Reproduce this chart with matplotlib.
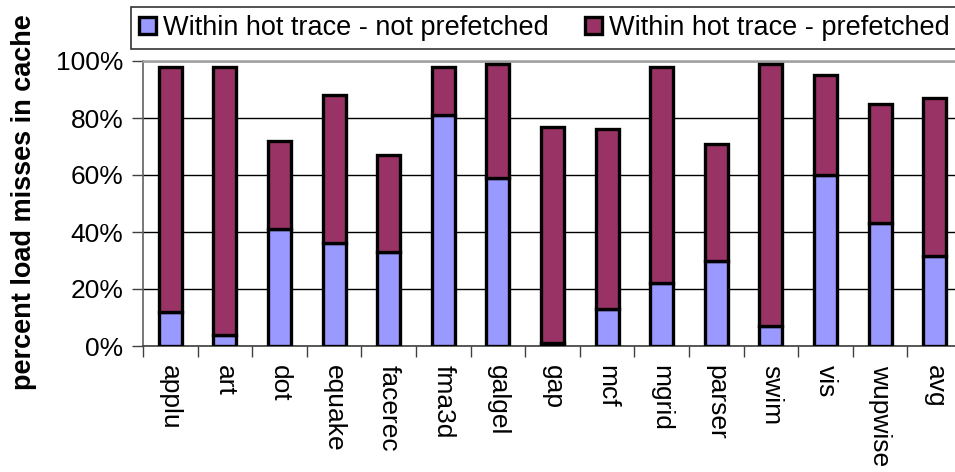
import numpy as np
import matplotlib
matplotlib.use("Agg")
import matplotlib.pyplot as plt
from matplotlib.ticker import FixedLocator, FuncFormatter

plt.rcParams["font.family"] = ["Liberation Sans", "DejaVu Sans"]

# ── Data ────────────────────────────────────────────────────────────────────
benchmarks = ["applu", "art", "dot", "equake", "facerec", "fma3d", "galgel",
              "gap", "mcf", "mgrid", "parser", "swim", "vis", "wupwise", "avg"]
not_prefetched = [12, 4, 41, 36, 33, 81, 59, 1, 13, 22, 30, 7, 60, 43, 31.5]
total_hot      = [98, 98, 72, 88, 67, 98, 99, 77, 76, 98, 71, 99, 95, 85, 87]
prefetched = [t - n for t, n in zip(total_hot, not_prefetched)]

labels = ["Within hot trace - not prefetched", "Within hot trace - prefetched"]
colors = ["#9999FF", "#993366"]

# ── Plot ────────────────────────────────────────────────────────────────────
W, H = 955, 472
fig = plt.figure(figsize=(W / 100, H / 100), dpi=100)
ax = fig.add_axes([143 / W, (H - 346) / H, (962 - 143) / W, (346 - 61) / H])

x = np.arange(len(benchmarks))
bw = 0.42
ax.bar(x, not_prefetched, bw, color=colors[0], edgecolor="black",
       linewidth=2.4, label=labels[0], zorder=3)
ax.bar(x, prefetched, bw, bottom=not_prefetched, color=colors[1],
       edgecolor="black", linewidth=2.4, label=labels[1], zorder=3)

ax.set_xlim(-0.5, len(benchmarks) - 0.5)
ax.set_ylim(0, 100)
ax.set_yticks([0, 20, 40, 60, 80, 100])
ax.yaxis.set_major_formatter(FuncFormatter(lambda v, p: f"{v:.0f}%"))
ax.yaxis.grid(True, color="black", linewidth=1.0, zorder=0)

ax.set_xticks(x)
ax.set_xticklabels(benchmarks, rotation=-90, va="top", ha="center")
ax.xaxis.set_minor_locator(FixedLocator(np.arange(-0.5, len(benchmarks), 1.0)))
ax.tick_params(axis="x", which="major", length=0, pad=14, labelsize=19)
ax.tick_params(axis="x", which="minor", length=8, width=1.0, color="#404040")
ax.tick_params(axis="y", length=8, width=1.0, color="#404040", labelsize=19, pad=6)

for side in ["top", "right"]:
    ax.spines[side].set_color("#a0a0a0")
    ax.spines[side].set_linewidth(1.8)
ax.spines["left"].set_color("#606060")
ax.spines["bottom"].set_color("#404040")
ax.spines["left"].set_linewidth(1.2)
ax.spines["bottom"].set_linewidth(1.2)

fig.text(24 / W, 1 - 202 / H, "percent load misses in cache", rotation=90,
         fontsize=19.5, fontweight="bold", ha="center", va="center")

leg = fig.legend(ncol=2, loc="upper left", bbox_to_anchor=(131 / W, 1 - 7 / H),
                 fontsize=19.5, frameon=True, fancybox=False, edgecolor="black",
                 handlelength=0.62, handleheight=0.62, handletextpad=0.25,
                 columnspacing=1.35, borderpad=0.3, borderaxespad=0)
leg.get_frame().set_linewidth(1.2)
for h in leg.legend_handles:
    h.set_linewidth(2.4)

fig.savefig("out.png", dpi=100)
